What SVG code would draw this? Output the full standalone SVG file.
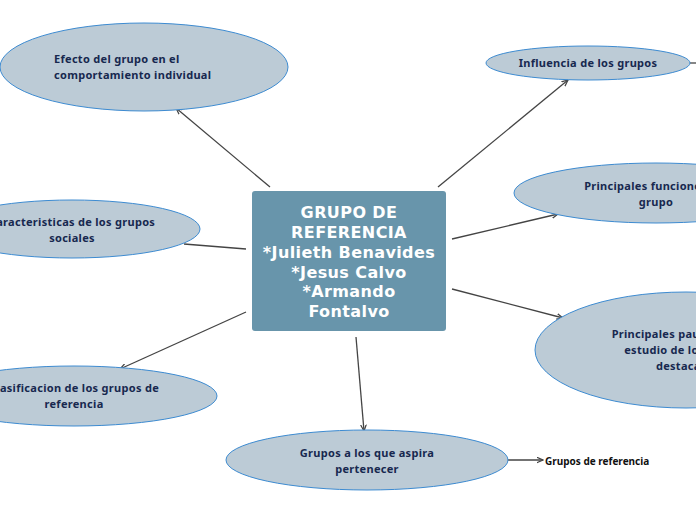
<svg xmlns="http://www.w3.org/2000/svg" width="696" height="520" viewBox="0 0 696 520">
<defs>
<marker id="arr" viewBox="0 0 10 10" refX="9" refY="5" markerWidth="7" markerHeight="7" orient="auto" markerUnits="userSpaceOnUse">
<path d="M0,1 L9,5 L0,9" fill="none" stroke="#444" stroke-width="1.8"/>
</marker>
<style>
.el{fill:#bccbd6;stroke:#3d8bd1;stroke-width:1}
.t{font-family:"Noto Sans","Open Sans",sans-serif;font-weight:bold;font-size:11px;fill:#17284f;letter-spacing:0.3px}
.c{font-family:"DejaVu Sans",sans-serif;font-weight:bold;font-size:16px;fill:#ffffff;letter-spacing:0.4px;text-anchor:middle}
.ln{stroke:#444;stroke-width:1.3;fill:none}
</style>
</defs>
<rect width="696" height="520" fill="#ffffff"/>
<g id="connectors">
<line class="ln" x1="270" y1="187" x2="176" y2="108" marker-end="url(#arr)"/>
<line class="ln" x1="438" y1="187" x2="568" y2="80" marker-end="url(#arr)"/>
<line class="ln" x1="452" y1="239" x2="558" y2="214" marker-end="url(#arr)"/>
<line class="ln" x1="246" y1="249" x2="184" y2="244"/>
<line class="ln" x1="452" y1="289" x2="563" y2="318" marker-end="url(#arr)"/>
<line class="ln" x1="246" y1="312" x2="120" y2="369" marker-end="url(#arr)"/>
<line class="ln" x1="356" y1="337" x2="364" y2="431" marker-end="url(#arr)"/>
<line class="ln" x1="507" y1="460" x2="543" y2="460" marker-end="url(#arr)"/>
<line class="ln" x1="690" y1="63" x2="696" y2="63"/>
</g>
<g id="center">
<rect x="252" y="191" width="194" height="140" rx="3" fill="#6895ab"/>
<text class="c" x="349" y="218">GRUPO DE</text>
<text class="c" x="349" y="238">REFERENCIA</text>
<text class="c" x="349" y="258">*Julieth Benavides</text>
<text class="c" x="349" y="278">*Jesus Calvo</text>
<text class="c" x="349" y="297">*Armando</text>
<text class="c" x="349" y="317">Fontalvo</text>
</g>
<g id="efecto">
<ellipse class="el" cx="144" cy="67" rx="144" ry="44"/>
<text class="t" x="54" y="63">Efecto del grupo en el</text>
<text class="t" x="54" y="79">comportamiento individual</text>
</g>
<g id="influencia">
<ellipse class="el" cx="588" cy="63" rx="102" ry="17"/>
<text class="t" x="588" y="67" text-anchor="middle">Influencia de los grupos</text>
</g>
<g id="funciones">
<ellipse class="el" cx="656" cy="193" rx="142" ry="30"/>
<text class="t" x="656" y="190" text-anchor="middle">Principales funciones del</text>
<text class="t" x="656" y="206" text-anchor="middle">grupo</text>
</g>
<g id="caracteristicas">
<ellipse class="el" cx="72" cy="229" rx="128" ry="29"/>
<text class="t" x="72" y="226" text-anchor="middle">Caracteristicas de los grupos</text>
<text class="t" x="72" y="242" text-anchor="middle">sociales</text>
</g>
<g id="pautas">
<ellipse class="el" cx="686" cy="350" rx="151" ry="58"/>
<text class="t" x="686" y="338" text-anchor="middle">Principales pautas para el</text>
<text class="t" x="686" y="354" text-anchor="middle">estudio de los grupos</text>
<text class="t" x="682" y="370" text-anchor="middle">destacan</text>
</g>
<g id="clasificacion">
<ellipse class="el" cx="74" cy="396" rx="143" ry="30"/>
<text class="t" x="74" y="392" text-anchor="middle">Clasificacion de los grupos de</text>
<text class="t" x="74" y="408" text-anchor="middle">referencia</text>
</g>
<g id="aspira">
<ellipse class="el" cx="367" cy="460" rx="141" ry="30"/>
<text class="t" x="367" y="457" text-anchor="middle">Grupos a los que aspira</text>
<text class="t" x="367" y="473" text-anchor="middle">pertenecer</text>
</g>
<g id="gruposref">
<text x="545" y="465" font-family="'Noto Sans','Open Sans',sans-serif" font-weight="bold" font-size="10" fill="#111">Grupos de referencia</text>
</g>
</svg>
